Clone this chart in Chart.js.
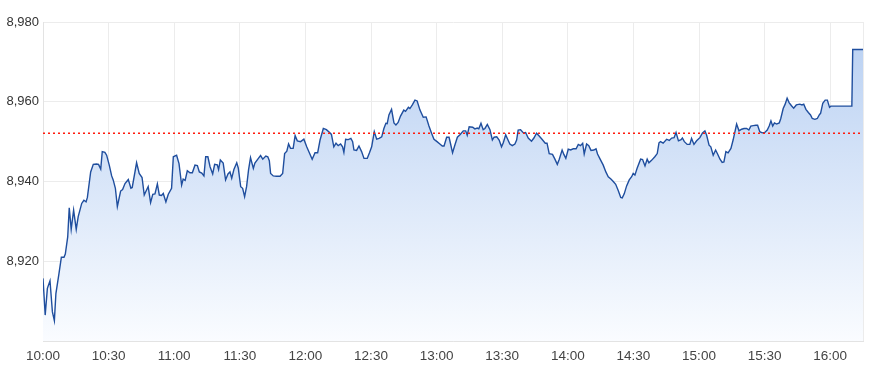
<!DOCTYPE html>
<html>
<head>
<meta charset="utf-8">
<style>
  html, body { margin: 0; padding: 0; background: #ffffff; }
  #wrap { width: 870px; height: 371px; }
</style>
<script src="https://cdn.jsdelivr.net/npm/chart.js@4/dist/chart.umd.min.js"></script>
</head>
<body>
<div id="wrap"><canvas id="c" width="870" height="371"></canvas></div>
<script>
// Minutes elapsed since 10:00
const minutes = [
  0, 1, 2, 3.2, 4.3, 5.2, 5.9, 7.3, 8.4, 9.6, 10.2, 11.3, 12, 12.9, 14, 15.2, 16.1, 17.7, 18.7, 19.7,
  20.3, 21.8, 23, 24.5, 25.4, 26.4, 27.1, 28.3, 29.1, 30.3, 31.4, 32.1, 33.1, 34, 34.8, 35.5, 36.4, 37.5, 39, 40.2,
  40.8, 42.8, 44, 45.3, 46.3, 47.3, 48.1, 49.2, 50.2, 51.2, 52.3, 53.2, 54.2, 55, 56.2, 57.3, 58.8, 59.6, 61.1, 62.2,
  63.4, 64.1, 65, 66, 67.2, 68.3, 69.5, 70.6, 71.5, 72.6, 73.6, 74.4, 75.4, 76.4, 77.6, 78.5, 79.7, 80.3, 81.1, 82.4,
  83.5, 84.6, 85.5, 86.3, 87.3, 88.6, 89.3, 90.4, 91.3, 92.2, 93.1, 94, 94.9, 96.2, 96.9, 98.5, 99.5, 100.5, 101.9, 102.8,
  103.5, 104.1, 105.3, 106.8, 108.4, 109.6, 110.5, 111.5, 112.3, 113.2, 114.4, 115.3, 116.3, 117.8, 119.3, 120.6, 121.8, 123.1, 124.4, 125.6,
  126.7, 128.2, 129.6, 131.2, 131.9, 133, 134, 135, 136.1, 137, 137.6, 138.4, 139.6, 140.8, 141.6, 142.2, 143.4, 144.5, 145.7, 146.8,
  148.3, 149.3, 150.3, 151.5, 152.6, 153.7, 154.9, 155.9, 156.8, 157.4, 158.2, 159.4, 160.5, 161.4, 162.4, 163.5, 165, 165.8, 167.1, 167.8,
  168.9, 170.1, 171.1, 172.4, 173.9, 175.2, 176.5, 177.7, 178.8, 180.2, 181.5, 182.6, 183.4, 184.6, 185.7, 186.4, 187.3, 188.4, 189.5, 190.8,
  192.2, 193.3, 194, 194.9, 196.5, 197.5, 198.6, 199.3, 200.3, 201.3, 202.1, 203.2, 204.4, 205.5, 206.3, 207.5, 208.6, 209.7, 210.5, 211.6,
  212.5, 213.5, 214.6, 215.8, 216.6, 217.3, 218.4, 219.7, 220.7, 221.9, 223.4, 224.5, 225.7, 226.9, 228.2, 229.7, 230.5, 231.5, 233, 234.1,
  235.2, 236.1, 237.4, 238.2, 239.1, 240.2, 241.3, 242.5, 243.8, 244.8, 245.8, 246.8, 247.5, 248.6, 249.6, 250.6, 251.9, 252.9, 253.6, 254.9,
  256.2, 257.4, 258.5, 259.7, 260.8, 261.9, 263.1, 264.2, 264.9, 265.8, 266.9, 268.1, 269.2, 269.9, 270.7, 271.7, 273.3, 274.2, 275.3, 276.3,
  277.1, 278.3, 279.8, 280.9, 281.7, 282.4, 283.6, 285.2, 286.4, 287.5, 288.6, 289.5, 290.6, 291.8, 292.4, 293.3, 294.6, 295.8, 296.6, 297.7,
  298.9, 300.4, 301.6, 302.7, 303.5, 304.6, 305.4, 306.5, 307.6, 308.5, 309.6, 310.6, 311.4, 312.3, 313.3, 314.6, 315.6, 317.2, 318.3, 319.5,
  320.6, 321.8, 322.8, 323.7, 324.8, 326, 326.8, 327.8, 328.9, 330.1, 331.2, 332.1, 332.9, 333.7, 334.5, 335.5, 336.7, 337.4, 338.5, 339.4,
  340.3, 341.2, 342.3, 343.3, 344.5, 346.1, 347.1, 347.9, 348.9, 350, 351, 351.8, 353, 354.1, 355, 355.6, 356.6, 357.7, 358.7, 359.7,
  360.3, 369.9, 370.3, 375
];

const prices = [
  8915.7, 8906.5, 8913.2, 8915.1, 8907.3, 8905.1, 8911.9, 8916.9, 8921.0, 8921.0, 8921.8, 8926.1, 8933.4, 8928.0, 8932.8, 8928.0, 8931.2, 8934.5, 8935.3, 8934.9,
  8936.0, 8942.4, 8944.3, 8944.4, 8944.3, 8943.1, 8947.5, 8947.3, 8946.6, 8944.1, 8941.4, 8940.4, 8938.3, 8933.7, 8935.8, 8937.6, 8938.0, 8939.5, 8940.5, 8938.3,
  8938.5, 8944.7, 8942.0, 8941.0, 8936.6, 8937.8, 8938.7, 8934.7, 8936.8, 8936.9, 8939.4, 8936.6, 8936.5, 8937.0, 8934.9, 8936.8, 8938.3, 8946.2, 8946.6, 8944.5,
  8939.1, 8940.6, 8940.3, 8942.7, 8942.2, 8942.2, 8944.1, 8944.0, 8942.4, 8942.1, 8941.4, 8946.2, 8946.2, 8943.7, 8941.9, 8944.3, 8944.2, 8943.0, 8945.4, 8944.6,
  8940.4, 8941.9, 8942.4, 8940.8, 8943.0, 8944.7, 8943.4, 8938.7, 8938.3, 8936.2, 8938.7, 8942.9, 8946.0, 8943.3, 8944.6, 8945.8, 8946.5, 8945.6, 8946.4, 8946.2,
  8945.2, 8942.0, 8941.4, 8941.3, 8941.3, 8942.0, 8947.0, 8947.6, 8949.4, 8948.3, 8948.3, 8951.5, 8950.2, 8950.0, 8950.6, 8948.7, 8947.2, 8945.6, 8947.2, 8947.2,
  8950.4, 8953.3, 8953.0, 8952.2, 8951.8, 8948.7, 8949.6, 8949.0, 8949.4, 8948.7, 8947.3, 8950.6, 8950.5, 8950.8, 8950.0, 8947.9, 8947.8, 8948.9, 8947.5, 8945.8,
  8945.8, 8947.2, 8948.7, 8952.5, 8950.6, 8950.8, 8951.2, 8953.3, 8954.6, 8954.5, 8956.7, 8958.1, 8954.7, 8954.2, 8954.8, 8956.4, 8957.9, 8957.6, 8958.6, 8958.3,
  8959.2, 8960.4, 8960.2, 8957.9, 8956.1, 8956.2, 8953.9, 8952.1, 8950.6, 8950.0, 8949.4, 8948.9, 8948.9, 8951.1, 8951.1, 8949.4, 8947.2, 8949.2, 8951.1, 8951.8,
  8952.7, 8952.7, 8951.6, 8953.7, 8953.6, 8953.2, 8953.4, 8953.2, 8954.6, 8953.0, 8953.3, 8954.3, 8953.0, 8950.4, 8951.1, 8951.2, 8950.4, 8948.7, 8949.7, 8951.7,
  8950.6, 8949.4, 8949.0, 8949.4, 8950.4, 8952.9, 8953.0, 8952.2, 8952.3, 8950.9, 8950.1, 8950.9, 8952.1, 8951.4, 8950.6, 8949.6, 8949.6, 8947.0, 8946.8, 8945.6,
  8944.3, 8945.6, 8947.9, 8946.8, 8945.8, 8948.1, 8947.9, 8948.2, 8948.2, 8949.3, 8949.0, 8949.6, 8946.9, 8949.4, 8949.0, 8947.8, 8947.9, 8948.2, 8946.9, 8945.5,
  8944.1, 8942.4, 8941.2, 8940.6, 8940.0, 8939.3, 8937.7, 8936.0, 8935.9, 8936.9, 8938.9, 8940.4, 8941.2, 8942.0, 8941.6, 8943.3, 8945.6, 8945.5, 8943.9, 8945.6,
  8944.7, 8945.3, 8946.2, 8947.0, 8949.7, 8950.0, 8949.6, 8950.6, 8950.3, 8950.9, 8951.0, 8952.3, 8950.2, 8950.5, 8950.9, 8950.0, 8949.3, 8949.3, 8950.8, 8949.3,
  8950.2, 8951.0, 8952.2, 8952.7, 8951.6, 8949.1, 8948.7, 8946.6, 8947.9, 8946.9, 8945.6, 8944.8, 8944.9, 8947.5, 8947.2, 8948.3, 8950.4, 8954.4, 8952.7, 8953.1,
  8953.3, 8953.3, 8952.9, 8953.9, 8954.0, 8954.1, 8954.1, 8952.5, 8952.2, 8952.3, 8952.9, 8953.9, 8955.2, 8953.9, 8954.7, 8954.4, 8954.7, 8955.8, 8958.3, 8959.4,
  8960.9, 8959.8, 8959.0, 8958.4, 8959.2, 8959.4, 8959.2, 8959.4, 8958.1, 8957.3, 8956.7, 8955.8, 8955.6, 8955.8, 8956.7, 8957.1, 8959.6, 8960.4, 8960.4, 8958.6,
  8958.9, 8958.9, 8973.1, 8973.1
];

const prevClose = 8952.1;
const sessionStart = [10, 0];   // 10:00
const sessionEndMinute = 375;   // 16:15
const xTickMinutes = [0, 30, 60, 90, 120, 150, 180, 210, 240, 270, 300, 330, 360];
const yMin = 8900, yMax = 8980, yStep = 20;

const fmtTime = (m) => {
  const total = sessionStart[0] * 60 + sessionStart[1] + m;
  const h = Math.floor(total / 60), mm = total % 60;
  return h + ':' + String(mm).padStart(2, '0');
};

const ctx = document.getElementById('c').getContext('2d');

new Chart(ctx, {
  type: 'line',
  data: {
    datasets: [
      {
        data: minutes.map((m, i) => ({ x: m, y: prices[i] })),
        borderColor: '#1f4e9e',
        borderWidth: 1.4,
        pointRadius: 0,
        tension: 0,
        fill: 'start',
        backgroundColor: (c) => {
          const area = c.chart.chartArea;
          if (!area) return 'rgba(190,212,243,0.8)';
          const g = c.chart.ctx.createLinearGradient(0, area.top, 0, area.bottom);
          g.addColorStop(0, 'rgba(183,207,242,1)');
          g.addColorStop(1, 'rgba(250,252,255,1)');
          return g;
        },
        order: 2
      },
      {
        data: [{ x: 0, y: prevClose }, { x: sessionEndMinute, y: prevClose }],
        borderColor: '#ff1a0d',
        borderWidth: 1.5,
        borderDash: [2, 3],
        pointRadius: 0,
        fill: false,
        order: 1
      }
    ]
  },
  options: {
    responsive: false,
    animation: false,
    layout: { padding: { top: 22, right: 6, left: 0, bottom: 0 } },
    plugins: { legend: { display: false }, tooltip: { enabled: false } },
    scales: {
      x: {
        type: 'linear',
        min: 0,
        max: sessionEndMinute,
        afterFit: (s) => { s.height = 30; },
        afterBuildTicks: (s) => {
          s.ticks = xTickMinutes.concat([sessionEndMinute]).map(v => ({ value: v }));
        },
        grid: { color: '#ececec', drawTicks: false },
        border: { color: '#e3e3e3' },
        ticks: {
          padding: 7,
          color: '#444',
          font: { family: 'Liberation Sans, Arial, sans-serif', size: 13.5 },
          maxRotation: 0,
          autoSkip: false,
          callback: (v) => (xTickMinutes.includes(v) ? fmtTime(v) : '')
        }
      },
      y: {
        min: yMin,
        max: yMax,
        afterFit: (s) => { s.width = 43; },
        grid: { color: '#ececec', drawTicks: false },
        border: { color: '#e3e3e3' },
        ticks: {
          stepSize: yStep,
          padding: 4,
          color: '#333',
          font: { family: 'Liberation Sans, Arial, sans-serif', size: 13 },
          callback: (v) => (v === yMin ? '' : v.toLocaleString('en-US'))
        }
      }
    }
  }
});
</script>
</body>
</html>
